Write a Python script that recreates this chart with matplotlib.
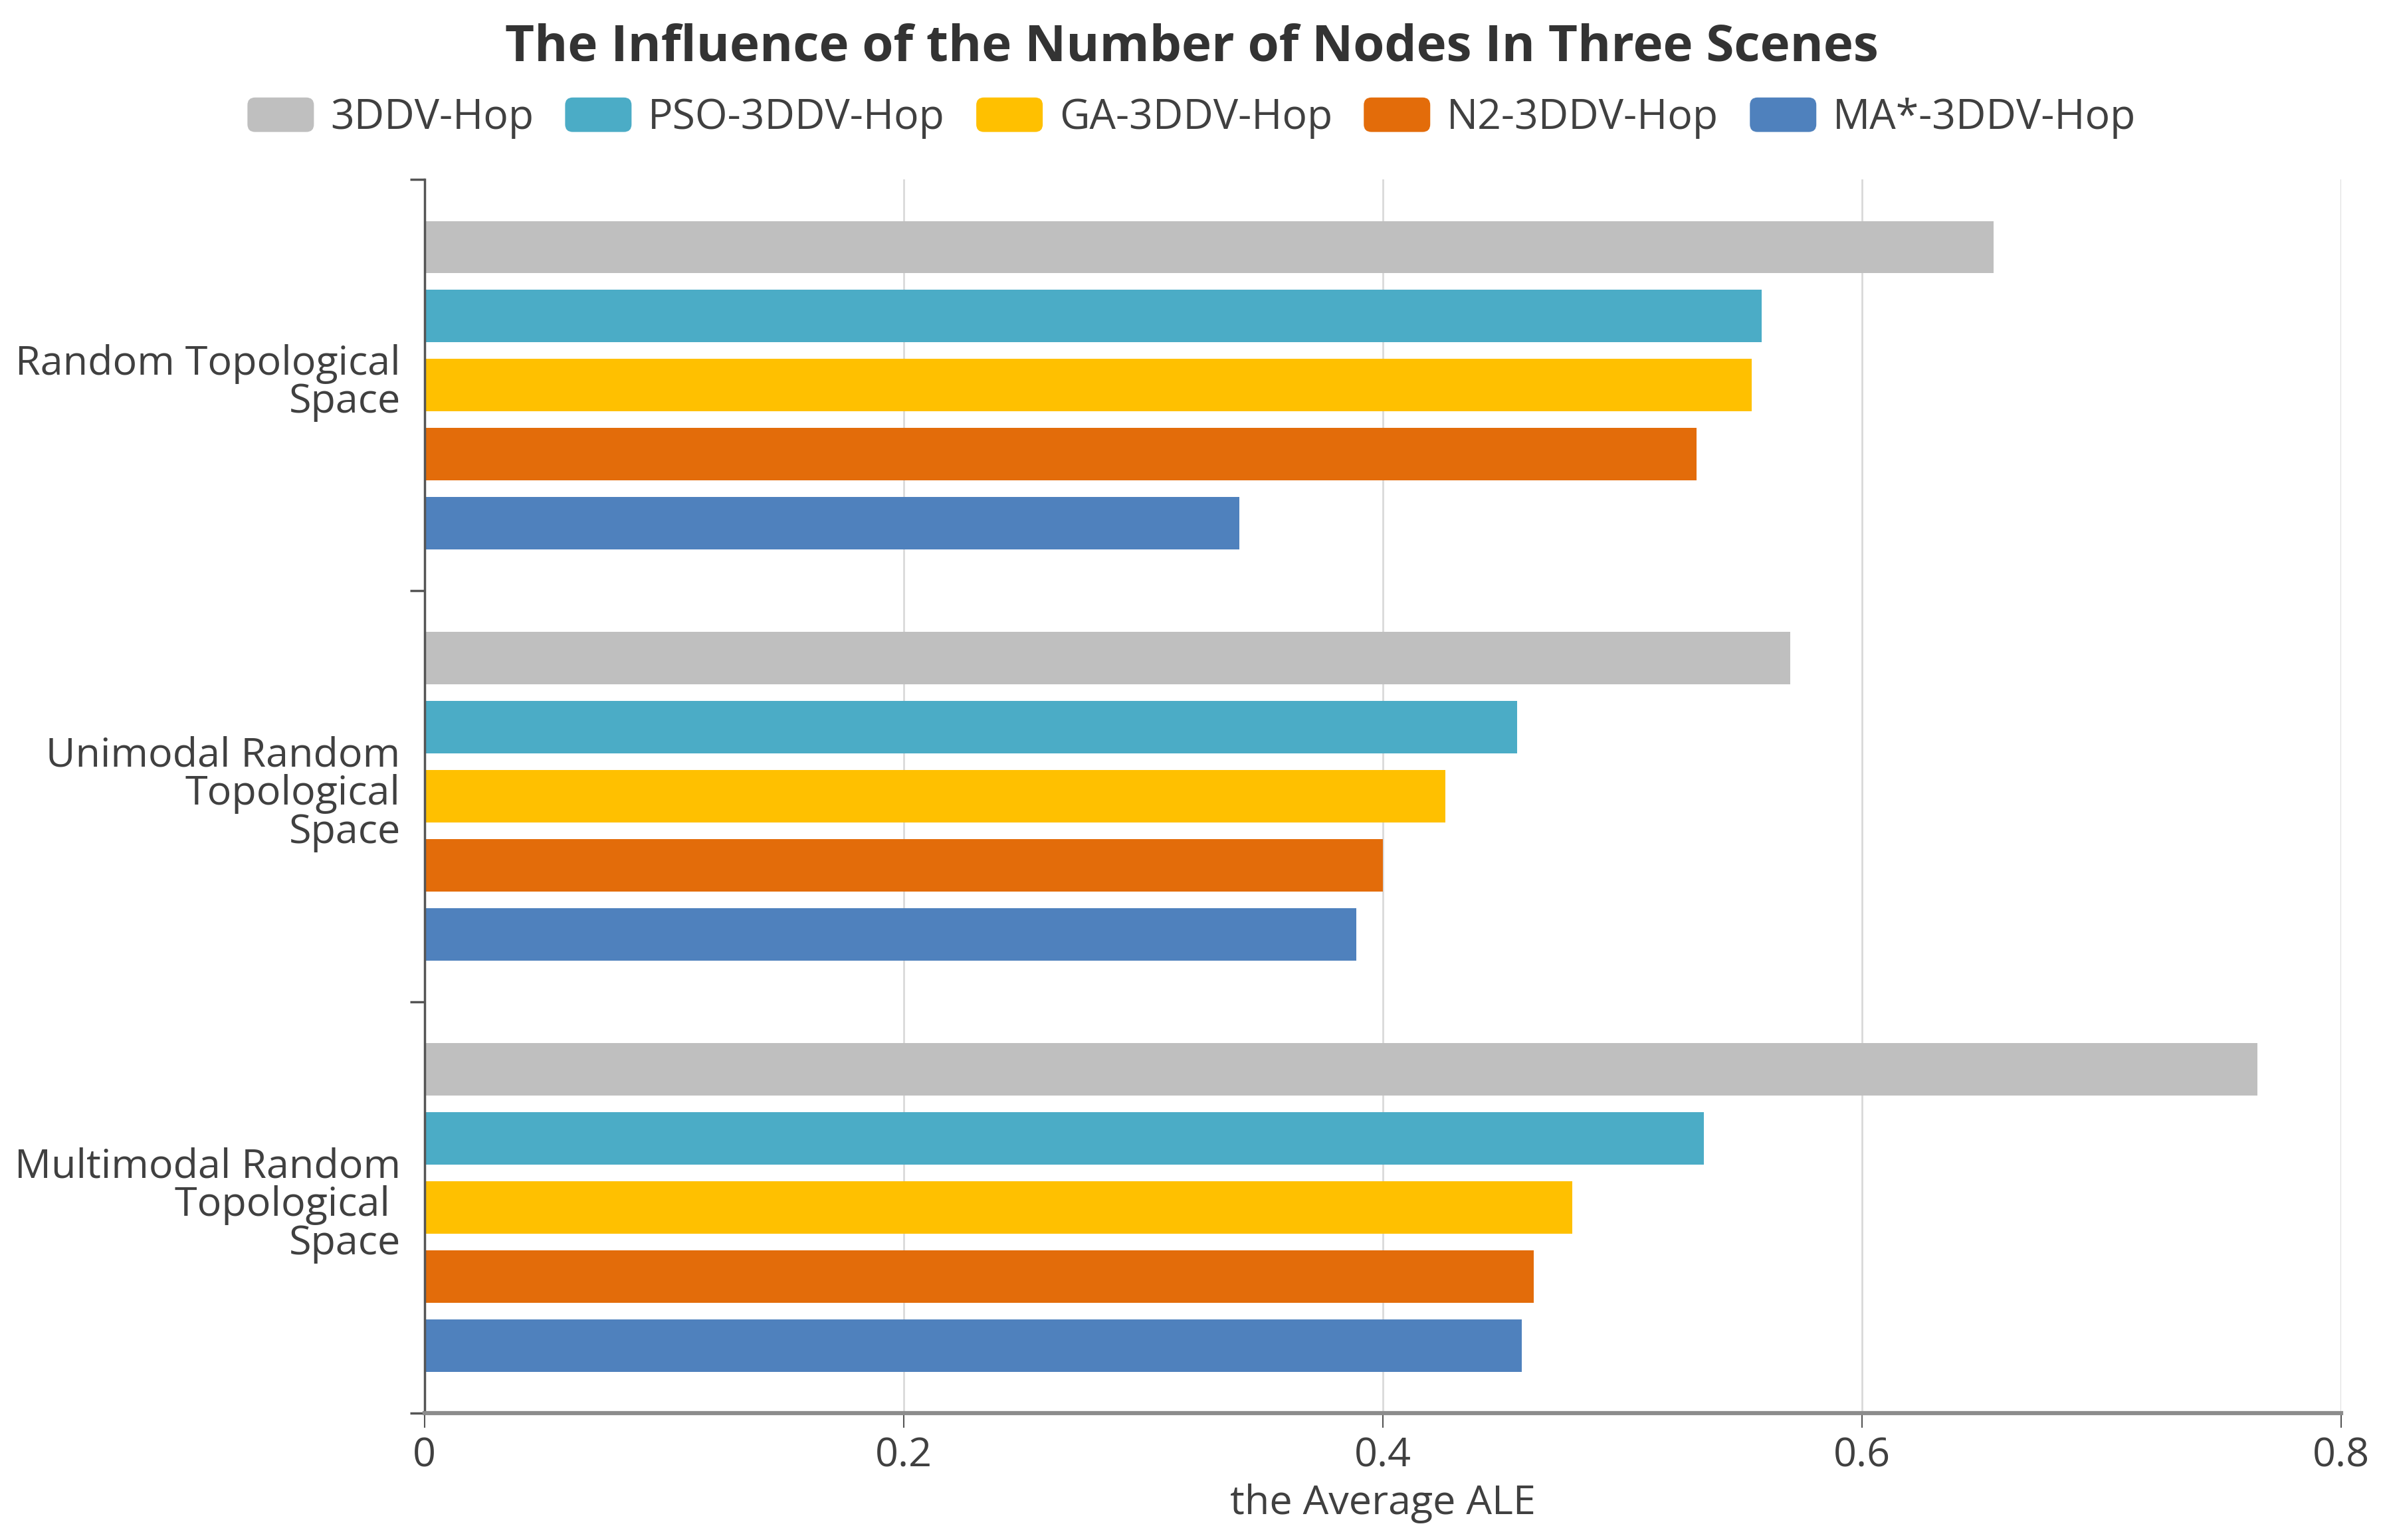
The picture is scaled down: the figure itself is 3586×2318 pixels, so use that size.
import matplotlib
matplotlib.use("Agg")
import matplotlib.pyplot as plt
import numpy as np
from matplotlib.patches import Patch, FancyBboxPatch
from matplotlib.legend_handler import HandlerBase
from matplotlib.transforms import ScaledTranslation

categories = ["Random Topological\nSpace",
              "Unimodal Random\nTopological\nSpace",
              "Multimodal Random\nTopological \nSpace"]
series_names = ["3DDV-Hop", "PSO-3DDV-Hop", "GA-3DDV-Hop", "N2-3DDV-Hop", "MA*-3DDV-Hop"]
v_3ddv = [0.655, 0.570, 0.765]
v_pso = [0.558, 0.456, 0.534]
v_ga = [0.554, 0.426, 0.479]
v_n2 = [0.531, 0.400, 0.463]
v_ma = [0.340, 0.389, 0.458]
x_ticks = [0, 0.2, 0.4, 0.6, 0.8]
x_tick_labels = ["0", "0.2", "0.4", "0.6", "0.8"]

colors = ["#BFBFBF", "#4BACC6", "#FFC000", "#E36C0A", "#4F81BD"]
values = [v_3ddv, v_pso, v_ga, v_n2, v_ma]

plt.rcParams['font.family'] = ['Open Sans', 'DejaVu Sans']
TXT = "#404040"

fig = plt.figure(figsize=(35.87, 23.18), dpi=100)
ax = fig.add_axes([0.1781, 0.0824, 0.9822 - 0.1781, 0.8835 - 0.0824])

y = np.arange(len(categories))
pitch = 0.1677
height = 0.1274
for i, (vals, c) in enumerate(zip(values, colors)):
    ax.barh(y + (i - 2) * pitch, vals, height=height, color=c, edgecolor='none', zorder=3)

ax.set_xlim(0, 0.8)
ax.set_ylim(2.5, -0.5)
ax.set_xticks(x_ticks)
ax.set_xticklabels(x_tick_labels)
ax.set_yticks(y)
ax.set_yticklabels(categories, linespacing=0.95)
ax.set_yticks([-0.5, 0.5, 1.5, 2.5], minor=True)

ax.tick_params(axis='y', which='major', length=0, pad=26, labelsize=44, labelcolor=TXT)
ax.tick_params(axis='y', which='minor', length=16, width=2.5, color='#555555')
ax.tick_params(axis='x', which='major', length=16, width=1.5, color='#555555',
               pad=9, labelsize=44, labelcolor=TXT)

shift = ScaledTranslation(0, 0.09, fig.dpi_scale_trans)
for lbl in ax.get_yticklabels():
    lbl.set_transform(lbl.get_transform() + shift)

ax.grid(axis='x', color='#D9D9D9', linewidth=2, zorder=0)
ax.set_axisbelow(True)

for s in ['top', 'right']:
    ax.spines[s].set_visible(False)
ax.spines['left'].set_color('#555555')
ax.spines['left'].set_linewidth(2.5)
ax.spines['bottom'].set_color('#8C8C8C')
ax.spines['bottom'].set_linewidth(4.5)
ax.spines['bottom'].set_zorder(4)
ax.spines['left'].set_zorder(4)

ax.set_xlabel("the Average ALE", fontsize=44, color=TXT, labelpad=8)

fig.text(0.5, 1 - 72 / 2318, "The Influence of the Number of Nodes In Three Scenes",
         ha='center', va='center', fontsize=55, fontweight='bold', color='#333333')


class RoundBox(HandlerBase):
    def create_artists(self, legend, orig_handle, xdescent, ydescent, width, height, fontsize, trans):
        p = FancyBboxPatch((-xdescent, -ydescent), width, height,
                           boxstyle=f"round,pad=0,rounding_size={height * 0.22}",
                           facecolor=orig_handle.get_facecolor(), edgecolor='none',
                           transform=trans)
        return [p]


handles = [Patch(facecolor=c) for c in colors]
fig.legend(handles, series_names, loc='center', bbox_to_anchor=(0.5, 1 - 178 / 2318),
           ncol=5, frameon=False, fontsize=45, labelcolor=TXT,
           handler_map={Patch: RoundBox()}, handlelength=1.6, handleheight=0.9,
           handletextpad=0.4, columnspacing=0.75, borderpad=0, borderaxespad=0)

fig.savefig("out.png", dpi=100, facecolor='white')
